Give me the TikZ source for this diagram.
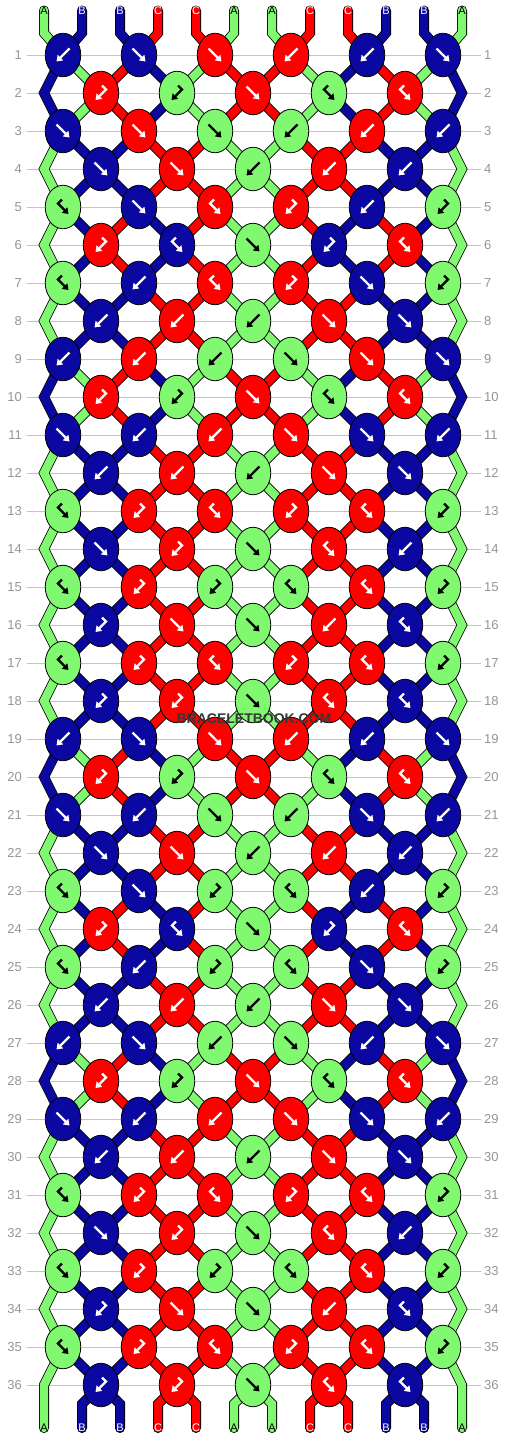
\documentclass[tikz,border=0pt]{standalone}
\usepackage{fontspec}
\setmainfont{Liberation Sans}
\usetikzlibrary{shapes.geometric,arrows.meta}
\pgfdeclarelayer{grid}
\pgfdeclarelayer{back}
\pgfsetlayers{grid,back,main}

\definecolor{strA}{RGB}{128,248,112}
\definecolor{strB}{RGB}{10,8,160}
\definecolor{strC}{RGB}{255,0,0}
\definecolor{numgray}{RGB}{150,150,150}
\definecolor{linegray}{RGB}{195,195,195}
\definecolor{markgray}{RGB}{55,55,55}

% order of the strings after a row (I = start order)
\newcommand\stI[1]{\ifcase#1 \or A\or B\or B\or C\or C\or A\or A\or C\or C\or B\or B\or A\fi}
\newcommand\stX[1]{\ifcase#1 \or B\or A\or C\or B\or A\or C\or C\or A\or B\or C\or A\or B\fi}
\newcommand\stY[1]{\ifcase#1 \or A\or B\or C\or B\or C\or A\or A\or C\or B\or C\or B\or A\fi}
\newcommand\orderafter[1]{\ifcase#1 I\or X\or X\or I\or I\or Y\or Y\or I\or I\or X\or X\or I\or I\or I\or I\or I\or I\or I\or I\or X\or X\or I\or I\or Y\or Y\or I\or I\or X\or X\or I\or I\or I\or I\or I\or I\or I\or I\fi}

\begin{document}
\begin{tikzpicture}[x=1pt,y=-1pt,
  knot/.style={ellipse,draw=black,line width=0.8pt,minimum width=35.5pt,minimum height=43.5pt,inner sep=0pt},
  glyph/.style={line width=2.2pt,-{Triangle[width=7.5pt,length=5.5pt]}},
  strand/.style={draw=black,line width=0.8pt,double=#1,double distance=8.4pt},
  endlab/.style={font=\fontsize{11}{11}\selectfont,inner sep=0pt},
  rownum/.style={font=\fontsize{13}{13}\selectfont,text=numgray,inner sep=0pt}]
  \useasboundingbox (0,0) rectangle (506,1440);

  % knots, row by row: f, b, R (forward-backward), L (backward-forward)
  \foreach \rw/\types in {1/{b,f,f,b,b,f},2/{L,L,f,R,R},3/{f,f,f,b,b,b},4/{f,f,b,b,b},
      5/{R,f,R,L,b,L},6/{L,R,f,L,R},7/{R,b,R,L,f,L},8/{b,b,b,f,f},9/{b,b,b,f,f,f},
      10/{L,L,f,R,R},11/{f,b,b,f,f,b},12/{b,b,b,f,f},13/{R,L,R,L,R,L},14/{f,L,f,R,b},
      15/{R,L,L,R,R,L},16/{L,f,f,b,R},17/{R,L,R,L,R,L},18/{L,L,f,R,R},19/{b,f,f,b,b,f},
      20/{L,L,f,R,R},21/{f,b,f,b,f,b},22/{f,f,b,b,b},23/{R,f,L,R,b,L},24/{L,R,f,L,R},
      25/{R,b,L,R,f,L},26/{b,b,b,f,f},27/{b,f,b,f,b,f},28/{L,L,f,R,R},29/{f,b,b,f,f,b},
      30/{b,b,b,f,f},31/{R,L,R,L,R,L},32/{f,L,f,R,b},33/{R,L,L,R,R,L},34/{L,f,f,b,R},
      35/{R,L,R,L,R,L},36/{L,L,f,R,R}}{
    \pgfmathtruncatemacro\ru{\rw-1}
    \pgfmathtruncatemacro\odd{mod(\rw,2)}
    \edef\ord{\orderafter{\ru}}
    \foreach \ty [count=\kn] in \types {
      \pgfmathsetmacro\x{\odd==1 ? 63+76*(\kn-1) : 101+76*(\kn-1)}
      \pgfmathtruncatemacro\pl{\odd==1 ? 2*\kn-1 : 2*\kn}
      \pgfmathtruncatemacro\side{\pl+1}
      \if\ty f\let\side\pl\fi
      \if\ty R\let\side\pl\fi
      \edef\kc{\csname st\ord\endcsname{\side}}
      \def\gc{white}\if\kc A\def\gc{black}\fi
      \node[knot,fill=str\kc] (k-\rw-\kn) at (\x,{55+38*\ru}) {};
      \if\ty f\draw[glyph,draw=\gc] (k-\rw-\kn.center) ++(-6.5,-6.5) -- ++(13,13);\fi
      \if\ty b\draw[glyph,draw=\gc] (k-\rw-\kn.center) ++(6.5,-6.5) -- ++(-13,13);\fi
      \if\ty R\draw[glyph,draw=\gc] (k-\rw-\kn.center) ++(-1,-7.5) -- ++(-4,4) -- ++(10.5,10.5);\fi
      \if\ty L\draw[glyph,draw=\gc] (k-\rw-\kn.center) ++(1,-7.5) -- ++(4,4) -- ++(-10.5,10.5);\fi
    }
  }

  % string ends
  \foreach \pos/\lab in {1/A,2/B,3/B,4/C,5/C,6/A,7/A,8/C,9/C,10/B,11/B,12/A}{
    \pgfmathsetmacro\xp{44+38*(\pos-1)}
    \def\lc{white}\if\lab A\def\lc{black}\fi
    \node[endlab,text=\lc] (t-\pos) at (\xp,10.5) {\lab};
    \node[endlab,text=\lc] (b-\pos) at (\xp,1428) {\lab};
    \coordinate (tb-\pos) at (\xp,33);
    \coordinate (bb-\pos) at (\xp,1404);
  }
  \foreach \rw in {2,4,...,36}{
    \coordinate (eL-\rw) at (44,{55+38*(\rw-1)});
    \coordinate (eR-\rw) at (462,{55+38*(\rw-1)});
  }

  \begin{pgfonlayer}{back}
    \foreach \rw in {2,4,...,36}{
      \pgfmathtruncatemacro\ru{\rw-1}
      \pgfmathtruncatemacro\rd{\rw+1}
      \edef\ordu{\orderafter{\ru}}
      \edef\ordd{\orderafter{\rw}}
      \foreach \pos in {2,...,11}{
        \pgfmathtruncatemacro\ko{(\pos+1)/2}
        \pgfmathtruncatemacro\ke{\pos/2}
        \edef\cu{\csname st\ordu\endcsname{\pos}}
        \edef\cd{\csname st\ordd\endcsname{\pos}}
        \draw[strand=str\cu] (k-\ru-\ko.center) -- (k-\rw-\ke.center);
        \ifnum\rw<36 \draw[strand=str\cd] (k-\rw-\ke.center) -- (k-\rd-\ko.center);\fi
      }
      \edef\colL{\csname st\ordu\endcsname{1}}
      \edef\colR{\csname st\ordu\endcsname{12}}
      \ifnum\rw<36
        \draw[strand=str\colL] (k-\ru-1.center) -- (eL-\rw) -- (k-\rd-1.center);
        \draw[strand=str\colR] (k-\ru-6.center) -- (eR-\rw) -- (k-\rd-6.center);
      \fi
    }
    \foreach \pos/\lab in {1/A,2/B,3/B,4/C,5/C,6/A,7/A,8/C,9/C,10/B,11/B,12/A}{
      \pgfmathtruncatemacro\ko{(\pos+1)/2}
      \pgfmathtruncatemacro\ke{\pos/2}
      \draw[strand=str\lab,line cap=round] (t-\pos.center) -- (tb-\pos) -- (k-1-\ko.center);
      \ifnum\pos=1
        \draw[strand=str\lab,line cap=round] (k-35-1.center) -- (eL-36) -- (b-1.center);
      \else\ifnum\pos=12
        \draw[strand=str\lab,line cap=round] (k-35-6.center) -- (eR-36) -- (b-12.center);
      \else
        \draw[strand=str\lab,line cap=round] (k-36-\ke.center) -- (bb-\pos) -- (b-\pos.center);
      \fi\fi
    }
  \end{pgfonlayer}

  % row numbers and guide lines
  \begin{pgfonlayer}{grid}
    \fill[white] (0,0) rectangle (506,1440);
    \foreach \rw in {1,...,36}{
      \node[rownum,anchor=east] (nl-\rw) at (22,{55+38*(\rw-1)}) {\rw};
      \node[rownum,anchor=west] (nr-\rw) at (484,{55+38*(\rw-1)}) {\rw};
      \draw[linegray,line width=0.9pt,shorten <=4.5pt,shorten >=3.5pt] (nl-\rw.east) -- (nr-\rw.west);
    }
  \end{pgfonlayer}

  \node[font=\bfseries\fontsize{14}{14}\selectfont,text=markgray] (mark) at (254,719) {BRACELETBOOK.COM};
\end{tikzpicture}
\end{document}
